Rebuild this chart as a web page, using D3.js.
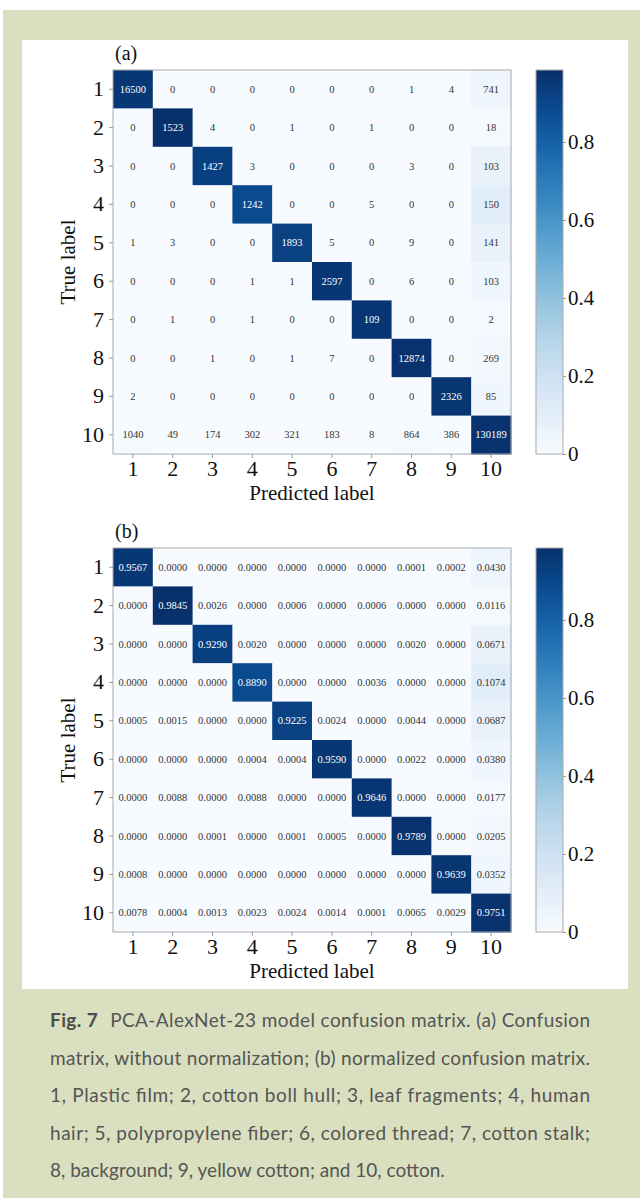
<!DOCTYPE html>
<html>
<head>
<meta charset="utf-8">
<script src="https://cdn.jsdelivr.net/npm/d3@7"></script>
<style>
  body { margin: 0; background: #fff; }
  svg { display: block; }
</style>
</head>
<body>
<script>
// class labels 1..10
var labels = ["1","2","3","4","5","6","7","8","9","10"];

// (a) raw counts, rows = true label
var counts = [
  [16500, 0, 0, 0, 0, 0, 0, 1, 4, 741],
  [0, 1523, 4, 0, 1, 0, 1, 0, 0, 18],
  [0, 0, 1427, 3, 0, 0, 0, 3, 0, 103],
  [0, 0, 0, 1242, 0, 0, 5, 0, 0, 150],
  [1, 3, 0, 0, 1893, 5, 0, 9, 0, 141],
  [0, 0, 0, 1, 1, 2597, 0, 6, 0, 103],
  [0, 1, 0, 1, 0, 0, 109, 0, 0, 2],
  [0, 0, 1, 0, 1, 7, 0, 12874, 0, 269],
  [2, 0, 0, 0, 0, 0, 0, 0, 2326, 85],
  [1040, 49, 174, 302, 321, 183, 8, 864, 386, 130189]
];

// (b) normalized
var normed = [
  [0.9567, 0, 0, 0, 0, 0, 0, 0.0001, 0.0002, 0.0430],
  [0, 0.9845, 0.0026, 0, 0.0006, 0, 0.0006, 0, 0, 0.0116],
  [0, 0, 0.9290, 0.0020, 0, 0, 0, 0.0020, 0, 0.0671],
  [0, 0, 0, 0.8890, 0, 0, 0.0036, 0, 0, 0.1074],
  [0.0005, 0.0015, 0, 0, 0.9225, 0.0024, 0, 0.0044, 0, 0.0687],
  [0, 0, 0, 0.0004, 0.0004, 0.9590, 0, 0.0022, 0, 0.0380],
  [0, 0.0088, 0, 0.0088, 0, 0, 0.9646, 0, 0, 0.0177],
  [0, 0, 0.0001, 0, 0.0001, 0.0005, 0, 0.9789, 0, 0.0205],
  [0.0008, 0, 0, 0, 0, 0, 0, 0, 0.9639, 0.0352],
  [0.0078, 0.0004, 0.0013, 0.0023, 0.0024, 0.0014, 0.0001, 0.0065, 0.0029, 0.9751]
];

var cbarTicks = [0, 0.2, 0.4, 0.6, 0.8];

var captionLines = [
  "PCA-AlexNet-23 model confusion matrix. (a) Confusion",
  "matrix, without normalization; (b) normalized confusion matrix.",
  "1, Plastic film; 2, cotton boll hull; 3, leaf fragments; 4, human",
  "hair; 5, polypropylene fiber; 6, colored thread; 7, cotton stalk;",
  "8, background; 9, yellow cotton; and 10, cotton."
];

var W = 640, H = 1198;
var serif = "'Liberation Serif', 'Times New Roman', serif";

var svg = d3.select("body").append("svg")
  .attr("width", W).attr("height", H);

// backgrounds
svg.append("rect").attr("x", 3).attr("y", 10).attr("width", W - 3).attr("height", H - 10)
  .attr("fill", "#d9dfbf");
svg.append("rect").attr("x", 22).attr("y", 40).attr("width", 606).attr("height", 949)
  .attr("fill", "#fff");

var vmax = d3.max(normed, function(r) { return d3.max(r); });
var color = d3.scaleSequential(d3.interpolateBlues).domain([0, vmax]);

function drawMatrix(top, tag, fmt) {
  var left = 113, size = 398, hgt = 384;
  var x = d3.scaleBand().domain(labels).range([left, left + size]);
  var y = d3.scaleBand().domain(labels).range([top, top + hgt]);
  var g = svg.append("g");

  var cells = [];
  labels.forEach(function(r, i) {
    labels.forEach(function(c, j) {
      cells.push({ r: r, c: c, v: normed[i][j], t: fmt(i, j) });
    });
  });

  g.selectAll("rect.cell").data(cells).enter().append("rect")
    .attr("class", "cell")
    .attr("x", function(d) { return x(d.c); })
    .attr("y", function(d) { return y(d.r); })
    .attr("width", x.bandwidth() + 0.5)
    .attr("height", y.bandwidth() + 0.5)
    .attr("fill", function(d) { return color(d.v); });

  g.selectAll("text.val").data(cells).enter().append("text")
    .attr("class", "val")
    .attr("x", function(d) { return x(d.c) + x.bandwidth() / 2; })
    .attr("y", function(d) { return y(d.r) + y.bandwidth() / 2; })
    .attr("dy", "0.35em")
    .attr("text-anchor", "middle")
    .attr("font-family", serif)
    .attr("font-size", 10.5)
    .attr("fill", function(d) { return d.v > vmax / 2 ? "#fff" : "#333"; })
    .text(function(d) { return d.t; });

  // frame
  g.append("rect").attr("x", left).attr("y", top).attr("width", size).attr("height", hgt)
    .attr("fill", "none").attr("stroke", "#aaa").attr("stroke-width", 1);

  // axes
  var ax = g.append("g").attr("transform", "translate(0," + (top + hgt) + ")")
    .call(d3.axisBottom(x).tickSize(4).tickPadding(2));
  var ay = g.append("g").attr("transform", "translate(" + left + ",0)")
    .call(d3.axisLeft(y).tickSize(4).tickPadding(5));
  [ax, ay].forEach(function(a) {
    a.select(".domain").remove();
    a.selectAll("line").attr("stroke", "#999");
    a.selectAll("text").attr("font-family", serif).attr("font-size", 22).attr("fill", "#111");
  });

  g.append("text").attr("x", 312).attr("y", top + hgt + 46)
    .attr("text-anchor", "middle").attr("font-family", serif).attr("font-size", 21)
    .attr("fill", "#111").text("Predicted label");
  g.append("text").attr("transform", "translate(75," + (top + hgt / 2) + ") rotate(-90)")
    .attr("text-anchor", "middle").attr("font-family", serif).attr("font-size", 21)
    .attr("fill", "#111").text("True label");
  g.append("text").attr("x", 115).attr("y", top - 10)
    .attr("font-family", serif).attr("font-size", 20).attr("fill", "#111").text(tag);

  // colorbar
  var cx = 536, cw = 27;
  var cy = d3.scaleLinear().domain([0, vmax]).range([top + hgt, top]);
  var gid = "grad" + tag.replace(/\W/g, "");
  var grad = svg.append("defs").append("linearGradient").attr("id", gid)
    .attr("x1", 0).attr("y1", 1).attr("x2", 0).attr("y2", 0);
  d3.range(0, 1.0001, 0.1).forEach(function(t) {
    grad.append("stop").attr("offset", t).attr("stop-color", color(t * vmax));
  });
  g.append("rect").attr("x", cx).attr("y", top).attr("width", cw).attr("height", hgt)
    .attr("fill", "url(#" + gid + ")").attr("stroke", "#aaa");
  var ac = g.append("g").attr("transform", "translate(" + (cx + cw) + ",0)")
    .call(d3.axisRight(cy).tickValues(cbarTicks).tickFormat(function(d) { return d === 0 ? "0" : d3.format(".1f")(d); })
      .tickSize(3).tickPadding(2));
  ac.select(".domain").remove();
  ac.selectAll("line").attr("stroke", "#999");
  ac.selectAll("text").attr("font-family", serif).attr("font-size", 21).attr("fill", "#111");
}

drawMatrix(70, "(a)", function(i, j) { return String(counts[i][j]); });
drawMatrix(548, "(b)", function(i, j) { return normed[i][j].toFixed(4); });

// caption, justified except last line
var cap = svg.append("g").attr("font-family", "Lato, 'Open Sans', sans-serif")
  .attr("font-size", 19).attr("fill", "#555");
var capLeft = 50, capRight = 590, capTop = 1027, lineH = 37.6;
captionLines.forEach(function(line, i) {
  var t = cap.append("text").attr("y", capTop + i * lineH).attr("x", capLeft);
  if (i === 0) {
    t.append("tspan").attr("font-weight", "bold").attr("fill", "#4d4d4d").text("Fig. 7");
    t.append("tspan").attr("dx", 12).text(line);
  } else {
    t.text(line);
  }
  if (i < captionLines.length - 1) {
    var nat = t.node().getComputedTextLength();
    t.attr("textLength", capRight - capLeft)
      .attr("lengthAdjust", nat > capRight - capLeft ? "spacingAndGlyphs" : "spacing");
  }
});
</script>
</body>
</html>
